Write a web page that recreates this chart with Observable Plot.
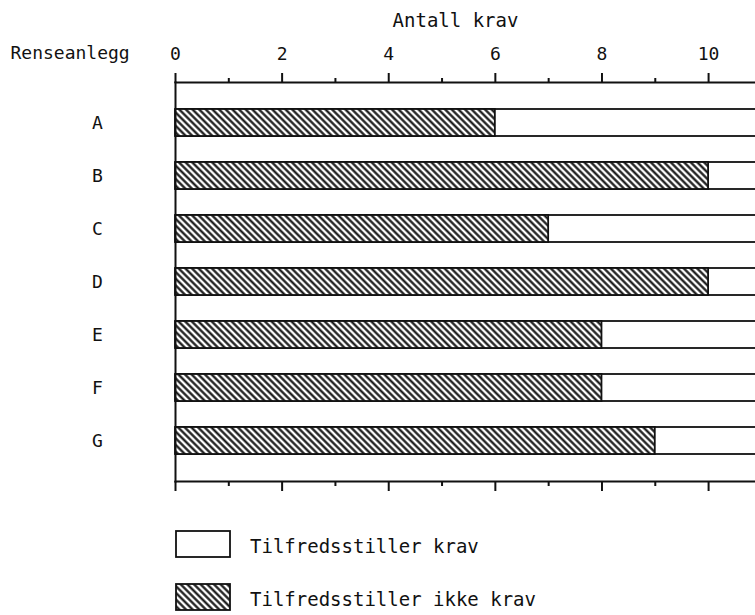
<!DOCTYPE html>
<html><head><meta charset="utf-8">
<script src="https://cdn.jsdelivr.net/npm/d3@7"></script>
<script src="https://cdn.jsdelivr.net/npm/@observablehq/plot@0.6"></script>
<style>
body{margin:0;background:#fff;}
#legend{width:755px;height:115px;}
svg{display:block;}
</style></head><body>
<div id="chart"></div>
<div id="legend"></div>
<script>
const plants = ["A","B","C","D","E","F","G"];
const notMet = [6,10,7,10,8,8,9];        // Tilfredsstiller ikke krav (hatched)
const totalReq = [11,11,11,11,11,11,11]; // bars continue past the cropped right edge
const majorTicks = [0,2,4,6,8,10];
const minorTicks = [1,3,5,7,9];
const xTitle = "Antall krav";
const yTitle = "Renseanlegg";
const legendLabels = ["Tilfredsstiller krav","Tilfredsstiller ikke krav"];

const FONT = '"DejaVu Sans Mono", "Liberation Mono", monospace';
const INK = "#111";
const data = plants.map((p,i)=>({plant:p, notMet:notMet[i], total:totalReq[i]}));

function hatchDef(id){
  return `<pattern id="${id}" patternUnits="userSpaceOnUse" width="4.7" height="4.7" patternTransform="rotate(-45)">
    <rect width="4.7" height="4.7" fill="white"/>
    <line x1="2.35" y1="-1" x2="2.35" y2="6" stroke="${INK}" stroke-width="2.2"/></pattern>`;
}

const chart = Plot.plot({
  width:755, height:500,
  marginLeft:175, marginRight:0, marginTop:82, marginBottom:19,
  style:{fontFamily:FONT, fontSize:"18px", color:INK, background:"#fff"},
  x:{domain:[0,10.88]},
  y:{domain:plants, padding:0.5},
  marks:[
    Plot.barX(data,{y:"plant", x1:0, x2:"total", fill:"white", stroke:INK, strokeWidth:1.8, clip:true}),
    Plot.barX(data,{y:"plant", x1:0, x2:"notMet", fill:"url(#hatch)", stroke:INK, strokeWidth:1.8}),
    Plot.frame({anchor:"top", stroke:INK, strokeWidth:2}),
    Plot.frame({anchor:"bottom", stroke:INK, strokeWidth:2}),
    Plot.frame({anchor:"left", stroke:INK, strokeWidth:2}),
    Plot.axisX(majorTicks,{anchor:"top", tickSize:10, tickPadding:13, strokeWidth:2, label:null}),
    Plot.axisX(minorTicks,{anchor:"top", tickSize:5, text:null, strokeWidth:2, label:null}),
    Plot.axisX(majorTicks,{anchor:"bottom", tickSize:10, text:null, strokeWidth:2, label:null}),
    Plot.axisX(minorTicks,{anchor:"bottom", tickSize:5, text:null, strokeWidth:2, label:null}),
    Plot.axisY({tickSize:0, tickPadding:78, textAnchor:"middle", label:null}),
    Plot.text([xTitle],{frameAnchor:"top", dx:-10, dy:-56, lineAnchor:"bottom", fontSize:19}),
    Plot.text([yTitle],{frameAnchor:"top-left", dx:-165, dy:-24, textAnchor:"start", lineAnchor:"bottom"})
  ]
});
d3.select(chart).insert("defs", ":first-child").html(hatchDef("hatch"));
document.getElementById("chart").appendChild(chart);

// legend below the chart
const lg = d3.select("#legend").append("svg").attr("width",755).attr("height",115)
  .style("font-family",FONT).style("font-size","19px");
lg.append("defs").html(hatchDef("hatchL"));
const fills = ["white","url(#hatchL)"];
legendLabels.forEach((t,i)=>{
  const y0 = 31 + i*53;
  lg.append("rect").attr("x",176).attr("y",y0).attr("width",54).attr("height",26)
    .attr("fill",fills[i]).attr("stroke",INK).attr("stroke-width",1.8);
  lg.append("text").attr("x",250).attr("y",y0+22).attr("fill",INK).text(t);
});
</script>
</body></html>
